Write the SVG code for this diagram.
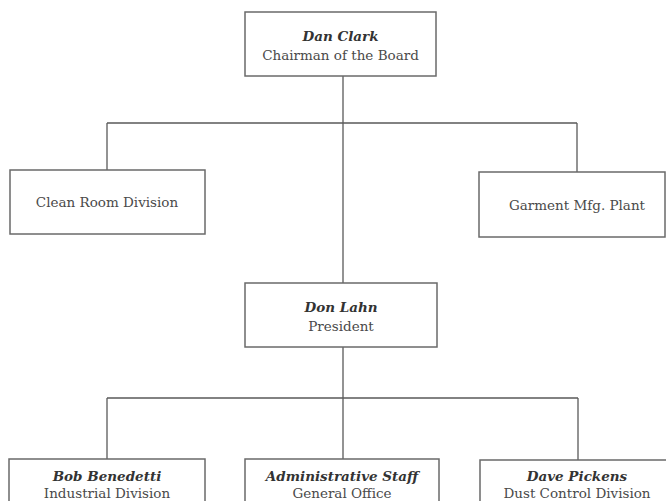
<svg xmlns="http://www.w3.org/2000/svg" width="666" height="501" viewBox="0 0 666 501">
<style>
.box{fill:#fff;stroke:#6a6a6a;stroke-width:1.5}
.ln{fill:none;stroke:#5a5a5a;stroke-width:1.3}
text{font-family:"DejaVu Serif","Liberation Serif",serif;font-size:13.5px;text-anchor:middle;fill:#4a4a4a}
.nm{font-weight:bold;font-style:italic;fill:#333}
</style>
<rect width="666" height="501" fill="#fff"/>
<g id="connectors">
<path class="ln" d="M343 76V283M107 123H577M107 123V170M577 123V172M343 347V459M107 398H578M107 398V459M578 398V460"/>
</g>
<g id="dan-clark"><rect class="box" x="245" y="12" width="191" height="64"/><text class="nm" x="340.5" y="41">Dan Clark</text><text x="340.5" y="60">Chairman of the Board</text></g>
<g id="clean-room"><rect class="box" x="10" y="170" width="195" height="64"/><text x="107" y="207">Clean Room Division</text></g>
<g id="garment"><rect class="box" x="479" y="172" width="186" height="65"/><text x="577" y="210">Garment Mfg. Plant</text></g>
<g id="don-lahn"><rect class="box" x="245" y="283" width="192" height="64"/><text class="nm" x="341" y="312">Don Lahn</text><text x="341" y="331">President</text></g>
<g id="bob-benedetti"><rect class="box" x="9" y="459" width="196" height="60"/><text class="nm" x="107" y="481">Bob Benedetti</text><text x="107" y="498">Industrial Division</text></g>
<g id="admin-staff"><rect class="box" x="245" y="459" width="194" height="60"/><text class="nm" x="342" y="481">Administrative Staff</text><text x="342" y="498">General Office</text></g>
<g id="dave-pickens"><rect class="box" x="480" y="460" width="190" height="60"/><text class="nm" x="577" y="481">Dave Pickens</text><text x="577" y="498">Dust Control Division</text></g>
</svg>
